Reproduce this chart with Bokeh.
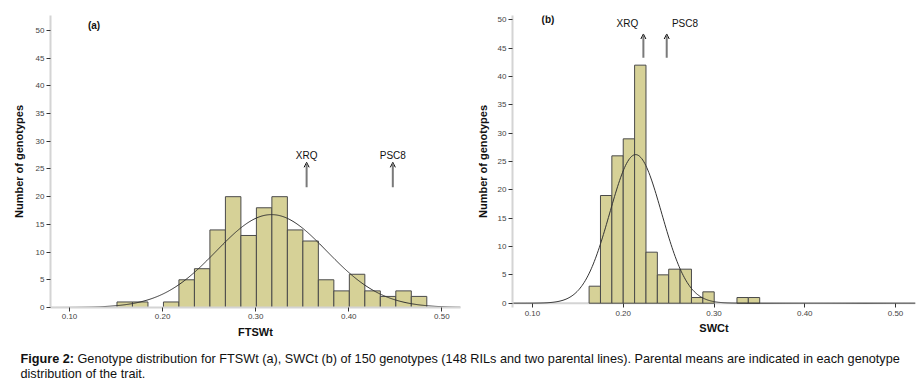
import numpy as np
from bokeh.plotting import figure
from bokeh.models import (Range1d, FixedTicker, PrintfTickFormatter, Arrow, OpenHead,
                          Label, ColumnDataSource, Span)
from bokeh.layouts import row, column
from bokeh.core.properties import value
from bokeh.embed import file_html
from bokeh.resources import INLINE

# ---------------- data ----------------
n_genotypes = 150

ftswt_counts = [1, 1, 0, 1, 5, 7, 14, 20, 13, 18, 20, 14, 12, 5, 3, 6, 3, 2, 3, 2]
ftswt_bin_start = 0.151
ftswt_bin_width = 0.01664
ftswt_mean = 0.317
ftswt_sd = 0.0594

swct_counts = [3, 19, 26, 29, 42, 9, 5, 6, 6, 1, 2, 0, 0, 1, 1]
swct_bin_start = 0.1624
swct_bin_width = 0.01253
swct_mean = 0.2137
swct_sd = 0.0286

x_ticks = [0.10, 0.20, 0.30, 0.40, 0.50]
y_ticks = [0, 5, 10, 15, 20, 25, 30, 35, 40, 45, 50]

parents = ["XRQ", "PSC8"]
ftswt_parent_means = [0.3547, 0.4473]
swct_parent_means = [0.2222, 0.2479]

caption_bold = "Figure 2:"
caption_line1 = ("Genotype distribution for FTSWt (a), SWCt (b) of 150 genotypes (148 RILs and two "
                 "parental lines). Parental means are indicated in each genotype")
caption_line2 = "distribution of the trait."

# ---------------- style ----------------
FONT = "Liberation Sans"
BAR_FILL = "#d6d197"
BAR_LINE = "#4a4a4a"
AXIS_GREY = "#d4d4d4"


def style_axes(p, label_x, label_y, y_label_standoff):
    p.outline_line_color = None
    p.xgrid.visible = False
    p.ygrid.visible = False
    p.xaxis.ticker = FixedTicker(ticks=x_ticks)
    p.xaxis.formatter = PrintfTickFormatter(format="%.2f")
    p.yaxis.ticker = FixedTicker(ticks=y_ticks)
    for ax in (p.xaxis[0], p.yaxis[0]):
        ax.axis_line_color = AXIS_GREY
        ax.axis_line_width = 2
        ax.major_tick_line_color = "#333333"
        ax.major_tick_out = 4
        ax.major_tick_in = 0
        ax.minor_tick_line_color = None
        ax.major_label_text_font = FONT
        ax.major_label_text_font_size = "8px"
        ax.major_label_text_color = "#444444"
        ax.major_label_standoff = 2
        ax.axis_label_text_font = FONT
        ax.axis_label_text_font_size = "11px"
        ax.axis_label_text_font_style = "bold"
        ax.axis_label_text_color = "#111111"
    p.xaxis.axis_label = label_x
    p.yaxis.axis_label = label_y
    p.xaxis.axis_label_standoff = 4
    p.yaxis.axis_label_standoff = y_label_standoff


def draw_hist(p, counts, start, width, mean, sd):
    edges = start + width * np.arange(len(counts) + 1)
    keep = [i for i, c in enumerate(counts) if c > 0]
    src = ColumnDataSource(dict(left=edges[:-1][keep], right=edges[1:][keep],
                                top=[counts[i] for i in keep]))
    p.quad(left="left", right="right", bottom=0, top="top", source=src,
           fill_color=BAR_FILL, line_color=BAR_LINE, line_width=1)
    xs = np.linspace(p.x_range.start, p.x_range.end, 400)
    ys = n_genotypes * width * np.exp(-0.5 * ((xs - mean) / sd) ** 2) / (sd * np.sqrt(2 * np.pi))
    p.line(xs, ys, line_color="#333333", line_width=1)


def draw_parents(p, means, label_xs, y0, y1, ylab):
    for m in means:
        p.add_layout(Arrow(end=OpenHead(size=5, line_color="black", line_width=1),
                           x_start=m, y_start=y0, x_end=m, y_end=y1,
                           line_color="#7a7a7a", line_width=2))
    p.text(x=label_xs, y=[ylab] * len(parents), text=parents,
           text_font=value(FONT), text_font_size=value("10px"),
           text_align="center", text_baseline="middle", text_color="#111111")


# ---------------- panel (a) ----------------
p1 = figure(width=468, height=340, x_range=Range1d(0.0796, 0.520), y_range=Range1d(0, 52.7),
            output_backend="svg", toolbar_location=None,
            min_border_left=50, min_border_right=8, min_border_top=15, min_border_bottom=33)
style_axes(p1, "FTSWt", "Number of genotypes", 8)
draw_hist(p1, ftswt_counts, ftswt_bin_start, ftswt_bin_width, ftswt_mean, ftswt_sd)
draw_parents(p1, ftswt_parent_means, ftswt_parent_means, 21.7, 26.2, 27.4)
p1.add_layout(Label(x=0.1198, y=50.9, text="(a)", text_font=FONT, text_font_size="10px",
                    text_font_style="bold", text_baseline="middle", text_color="#111111"))

# ---------------- panel (b) ----------------
# frames in a row share top/bottom edges; the count scale of (b) is shifted so that
# 0..50 sits where the reference puts it; its baseline is drawn at count 0
p2 = figure(width=456, height=340, x_range=Range1d(0.078, 0.522), y_range=Range1d(-0.76, 50.76),
            output_backend="svg", toolbar_location=None,
            min_border_left=44, min_border_right=9, min_border_top=15, min_border_bottom=33)
style_axes(p2, "SWCt", "Number of genotypes", 6)
p2.xaxis.axis_line_color = None
p2.xaxis.major_tick_out = 0
p2.xaxis.major_tick_in = 4
p2.xaxis.major_label_standoff = 3
p2.xaxis.axis_label_standoff = 3
p2.add_layout(Span(location=0, dimension="width", line_color=AXIS_GREY, line_width=2,
                   level="underlay"))
draw_hist(p2, swct_counts, swct_bin_start, swct_bin_width, swct_mean, swct_sd)
draw_parents(p2, swct_parent_means, [0.2046, 0.268], 43.3, 47.5, 49.4)
p2.add_layout(Label(x=0.110, y=50.0, text="(b)", text_font=FONT, text_font_size="10px",
                    text_font_style="bold", text_baseline="middle", text_color="#111111"))

# ---------------- caption ----------------
p3 = figure(width=924, height=39, x_range=Range1d(0, 924), y_range=Range1d(39, 0),
            output_backend="svg", toolbar_location=None, x_axis_type=None, y_axis_type=None,
            min_border=0)
p3.outline_line_color = None
p3.grid.visible = False
p3.add_layout(Label(x=20, y=18, text=caption_bold, text_font=FONT, text_font_size="12.7px",
                    text_font_style="bold", text_baseline="alphabetic", text_color="#111111"))
p3.add_layout(Label(x=77, y=18, text=caption_line1, text_font=FONT, text_font_size="12.7px",
                    text_baseline="alphabetic", text_color="#111111"))
p3.add_layout(Label(x=20, y=33, text=caption_line2, text_font=FONT, text_font_size="12.7px",
                    text_baseline="alphabetic", text_color="#111111"))

layout = column(row(p1, p2), p3)
open("out.html", "w").write(file_html(layout, INLINE))
